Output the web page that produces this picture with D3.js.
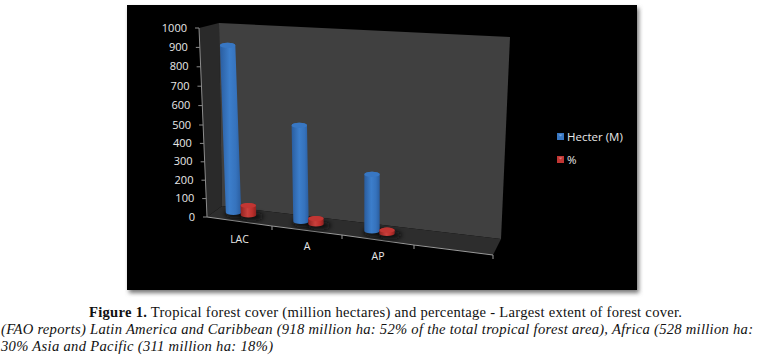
<!DOCTYPE html>
<meta charset="utf-8">
<style>
  html, body { margin: 0; padding: 0; background: #fff; }
  svg { display: block; }
</style>
<script src="https://d3js.org/d3.v7.min.js"></script>
<div id="my_dataviz"></div>

<script>
// data
var categories = ["LAC", "A", "AP"];
var seriesNames = ["Hecter (M)", "%"];
var hectares = [918, 528, 311];
var percent = [52, 30, 18];
var yTicks = [0, 100, 200, 300, 400, 500, 600, 700, 800, 900, 1000];
var captionLine1 = "Tropical forest cover (million hectares) and percentage - Largest extent of forest cover.";
var captionLine2 = "(FAO reports) Latin America and Caribbean (918 million ha: 52% of the total tropical forest area), Africa (528 million ha:";
var captionLine3 = "30% Asia and Pacific (311 million ha: 18%)";

var svg = d3.select("#my_dataviz").append("svg")
  .attr("width", 761)
  .attr("height", 359);

var defs = svg.append("defs");
defs.append("filter").attr("id", "soft").attr("x", "-20%").attr("y", "-20%").attr("width", "140%").attr("height", "140%")
  .append("feGaussianBlur").attr("stdDeviation", 2);
defs.append("filter").attr("id", "floorShadow").attr("x", "-50%").attr("y", "-100%").attr("width", "200%").attr("height", "300%")
  .append("feGaussianBlur").attr("stdDeviation", 2.5);

function cylGradient(id, edge, mid, light) {
  var g = defs.append("linearGradient").attr("id", id);
  g.append("stop").attr("offset", "0%").attr("stop-color", edge);
  g.append("stop").attr("offset", "45%").attr("stop-color", light);
  g.append("stop").attr("offset", "75%").attr("stop-color", mid);
  g.append("stop").attr("offset", "100%").attr("stop-color", edge);
}
cylGradient("blueCyl", "#2a5d9f", "#3673bd", "#3c7ecb");
cylGradient("redCyl", "#8f2220", "#bb2f2c", "#c9403c");

// chart background with its soft shadow
svg.append("rect").attr("x", 129).attr("y", 8).attr("width", 510).attr("height", 285)
  .attr("fill", "#777").attr("filter", "url(#soft)");
svg.append("rect").attr("x", 127).attr("y", 5).attr("width", 510).attr("height", 285)
  .attr("fill", "#000");

// walls and floor of the 3d box
var sideWall = [[199, 28], [219, 23], [222, 206], [207, 217]];
var backWall = [[219, 23], [510, 37], [501, 239], [222, 206]];
var floor = [[207, 217], [222, 206], [501, 239], [493, 255]];
var poly = d3.line();
svg.append("path").attr("d", poly(sideWall) + "Z").attr("fill", "#2a2a2a");
svg.append("path").attr("d", poly(backWall) + "Z").attr("fill", "#404040");
svg.append("path").attr("d", poly(floor) + "Z").attr("fill", "#2d2d2d");

// y position along the front edge of the side wall
var y = d3.scaleLinear().domain([0, 500, 1000]).range([217, 125, 28]);
// the front edge leans, so x depends on the screen y
var axisX = d3.scaleLinear().domain([217, 28]).range([207, 199]);
// height of a cylinder
var h = d3.scaleLinear().domain([0, 1000]).range([0, 182]);
// floor front edge, the slots get wider towards the right
var floorX = d3.scaleLinear().domain([0, 1, 2, 3, 4]).range([207, 272, 342, 414, 493]);
var floorY = d3.scaleLinear().domain([0, 1, 2, 3, 4]).range([217, 226, 235, 245, 255]);
// vertical lines lean differently across the picture
var lean = d3.scaleLinear().domain([207, 370, 500]).range([0.042, 0, -0.045]);
var seriesDx = d3.scaleOrdinal().domain(seriesNames).range([-6, 9]);
var seriesDy = d3.scaleOrdinal().domain(seriesNames).range([-9, -6.5]);
var seriesFill = d3.scaleOrdinal().domain(seriesNames).range(["url(#blueCyl)", "url(#redCyl)"]);
var seriesTop = d3.scaleOrdinal().domain(seriesNames).range(["#3877c3", "#c23633"]);

// Y axis
var yAxis = svg.append("g").call(d3.axisLeft(y).tickValues(yTicks).tickSize(4).tickPadding(8).tickFormat(d3.format("d")));
yAxis.selectAll(".tick")
  .attr("transform", function(d) { return "translate(" + axisX(y(d)) + "," + y(d) + ")"; });
yAxis.select(".domain").attr("d", poly([[axisX(y(0)), y(0)], [axisX(y(1000)), y(1000)]]))
  .attr("stroke", "#8c8c8c");
yAxis.selectAll("line").attr("stroke", "#8c8c8c");
yAxis.selectAll("text")
  .attr("fill", "#e8e8e8")
  .style("font-family", "'Open Sans'")
  .style("font-size", "11px");

// floor edge and its ticks
svg.append("path")
  .attr("d", poly([0, 1, 2, 3, 4].map(function(i) { return [floorX(i), floorY(i)]; })))
  .attr("fill", "none").attr("stroke", "#9a9a9a");
svg.selectAll(".floorTick")
  .data([1, 2, 3, 4])
  .enter().append("line")
    .attr("x1", function(i) { return floorX(i); })
    .attr("x2", function(i) { return floorX(i); })
    .attr("y1", function(i) { return floorY(i); })
    .attr("y2", function(i) { return floorY(i) + 4; })
    .attr("stroke", "#9a9a9a");

// category labels
var labelDy = [21.5, 19.5, 20];
svg.selectAll(".catLabel")
  .data(categories)
  .enter().append("text")
    .attr("x", function(d, i) { return (floorX(i) + floorX(i + 1)) / 2; })
    .attr("y", function(d, i) { return (floorY(i) + floorY(i + 1)) / 2 + labelDy[i]; })
    .attr("text-anchor", "middle")
    .attr("fill", "#e8e8e8")
    .style("font-family", "'Open Sans'")
    .style("font-size", "10.5px")
    .text(function(d) { return d; });

// one row per drawn cylinder
var marks = [];
categories.forEach(function(c, i) {
  marks.push({ series: seriesNames[0], i: i, value: hectares[i] });
  marks.push({ series: seriesNames[1], i: i, value: percent[i] });
});
marks.forEach(function(m) {
  m.bx = (floorX(m.i) + floorX(m.i + 1)) / 2 + seriesDx(m.series);
  m.by = (floorY(m.i) + floorY(m.i + 1)) / 2 + seriesDy(m.series);
  m.ty = m.by - h(m.value);
  m.tx = m.bx + (m.ty - m.by) * lean(m.bx);
});

var r = 7.7, ry = 2.6;

// shadows on the floor
svg.selectAll(".shadow")
  .data(marks)
  .enter().append("ellipse")
    .attr("cx", function(d) { return d.bx + 3; })
    .attr("cy", function(d) { return d.by + 1.5; })
    .attr("rx", r + 4)
    .attr("ry", ry + 1.5)
    .attr("fill", "#111")
    .attr("filter", "url(#floorShadow)");

// cylinder bodies
svg.selectAll(".cyl")
  .data(marks)
  .enter().append("path")
    .attr("d", function(d) {
      return "M" + (d.tx - r) + "," + d.ty +
        "L" + (d.bx - r) + "," + d.by +
        "A" + r + "," + ry + " 0 0 0 " + (d.bx + r) + "," + d.by +
        "L" + (d.tx + r) + "," + d.ty +
        "A" + r + "," + ry + " 0 0 0 " + (d.tx - r) + "," + d.ty + "Z";
    })
    .attr("fill", function(d) { return seriesFill(d.series); });

// cylinder tops
svg.selectAll(".cylTop")
  .data(marks)
  .enter().append("ellipse")
    .attr("cx", function(d) { return d.tx; })
    .attr("cy", function(d) { return d.ty; })
    .attr("rx", r)
    .attr("ry", ry)
    .attr("fill", function(d) { return seriesTop(d.series); });

// legend
var legend = svg.selectAll(".legend")
  .data(seriesNames)
  .enter().append("g")
    .attr("transform", function(d, i) { return "translate(557," + (133 + i * 23) + ")"; });
legend.append("rect")
  .attr("width", 7).attr("height", 7)
  .attr("fill", function(d) { return seriesTop(d); });
legend.append("path")
  .attr("d", "M1.5,1.5H5.5L3.5,3.5Z")
  .attr("fill", "#fff").attr("opacity", 0.35);
legend.append("text")
  .attr("x", 10).attr("y", 7.5)
  .attr("fill", "#e8e8e8")
  .style("font-family", "'Open Sans'")
  .style("font-size", "11.5px")
  .text(function(d) { return d; });

// caption under the chart
var cap = svg.append("g")
  .style("font-family", "'Liberation Serif'")
  .style("font-size", "14.6px")
  .attr("fill", "#111");
var line1 = cap.append("text").attr("x", 89).attr("y", 317).attr("textLength", 593);
line1.append("tspan").attr("font-weight", "bold").text("Figure 1.");
line1.append("tspan").text(" " + captionLine1);
cap.append("text").attr("x", 1).attr("y", 334).attr("textLength", 752)
  .attr("font-style", "italic").text(captionLine2);
cap.append("text").attr("x", 1).attr("y", 351).attr("textLength", 272)
  .attr("font-style", "italic").text(captionLine3);
</script>
